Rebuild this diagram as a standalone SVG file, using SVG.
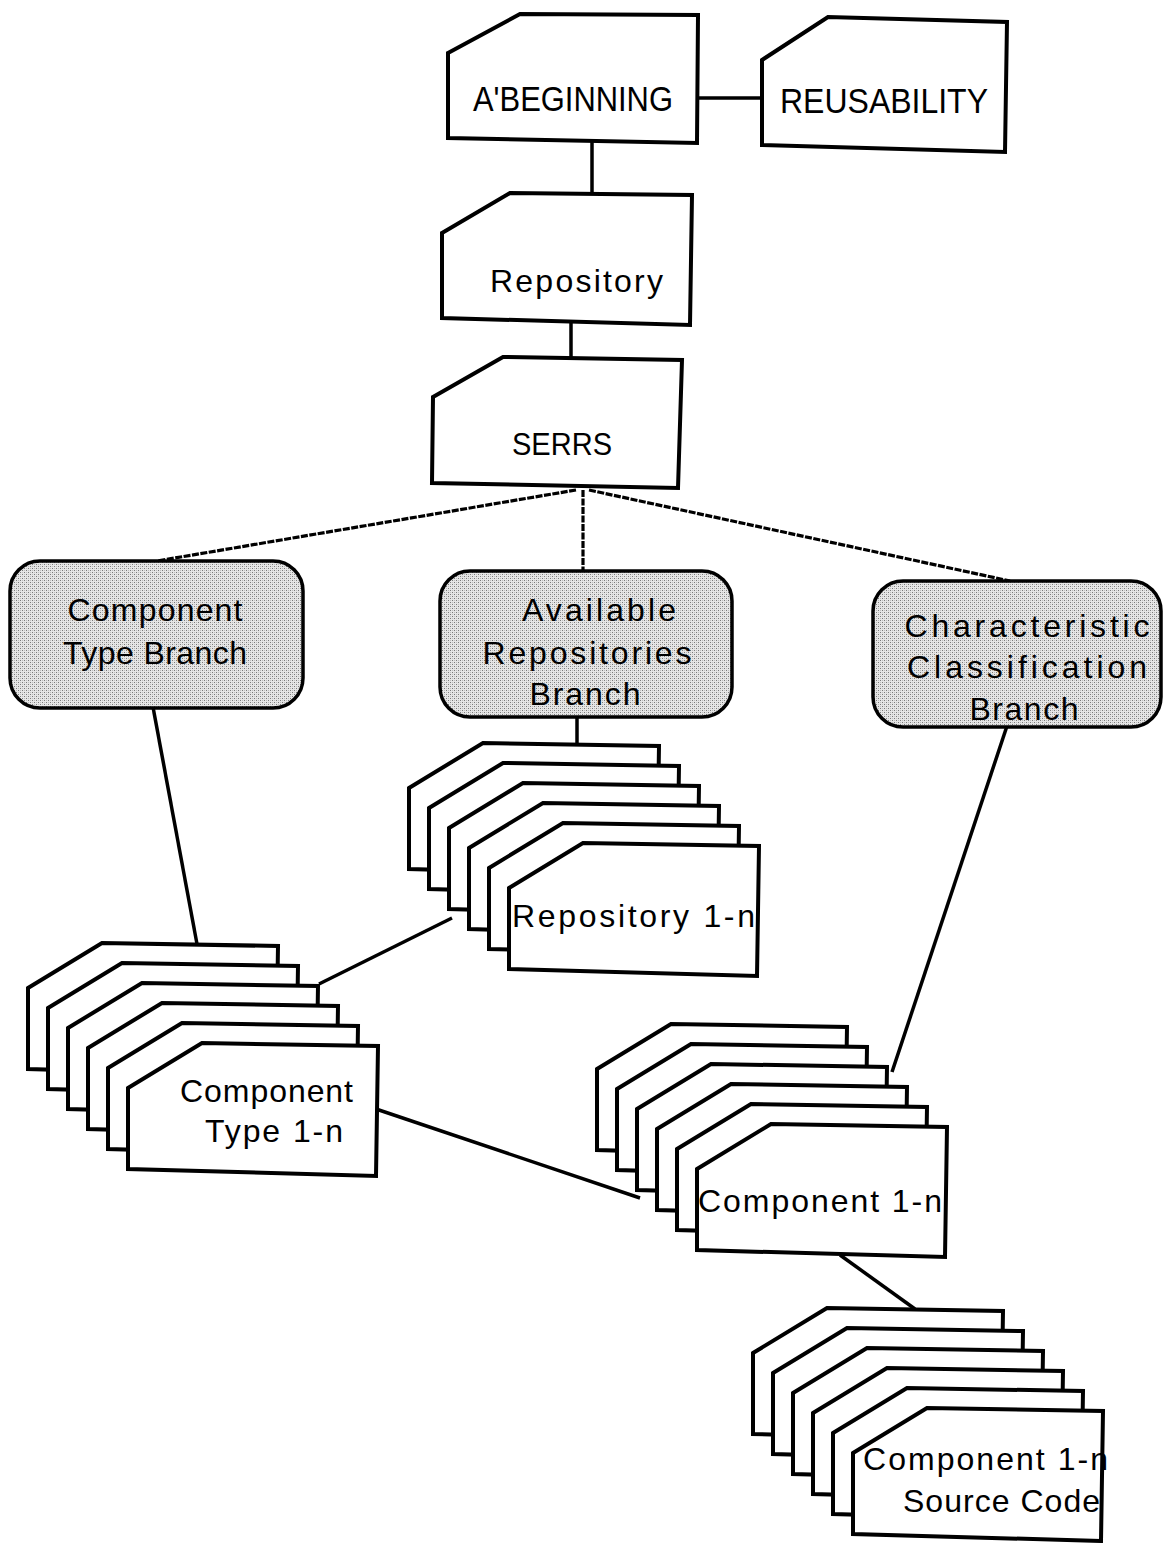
<svg xmlns="http://www.w3.org/2000/svg" xmlns:xlink="http://www.w3.org/1999/xlink" width="1163" height="1543" viewBox="0 0 1163 1543">
  <defs>
    <style>
      .box { fill: #ffffff; stroke: #000000; stroke-width: 4; stroke-linejoin: miter; }
      .branch { fill: url(#stipple); stroke: #000000; stroke-width: 3.5; }
      .link { fill: none; stroke: #000000; stroke-width: 3.5; stroke-linecap: butt; }
      .dash { fill: none; stroke: #000000; stroke-width: 3.2; stroke-dasharray: 7 1.5; }
      .lbl { font-family: "Liberation Sans", Arial, sans-serif; font-size: 32px; fill: #000000; }
      .caps { font-size: 35px; }
      .mid { text-anchor: middle; }
    </style>
    <!-- fine dot screen used for the branch boxes -->
    <pattern id="stipple" width="4" height="4" patternUnits="userSpaceOnUse">
      <rect width="4" height="4" fill="#e6e6e6"/>
      <rect x="0" y="0" width="1" height="1" fill="#7a7a7a"/>
      <rect x="2" y="2" width="1" height="1" fill="#7a7a7a"/>
      <rect x="2" y="0" width="1" height="1" fill="#bdbdbd"/>
      <rect x="0" y="2" width="1" height="1" fill="#bdbdbd"/>
    </pattern>
    <!-- one card of a stacked deck: clipped top-left corner -->
    <path id="card" class="box" d="M0,45 L74,0 L250,3 L248,133 L0,126 Z"/>
  </defs>

  <rect width="1163" height="1543" fill="#ffffff"/>

  <!-- connectors -->
  <g id="connectors">
    <line class="link" x1="698" y1="98" x2="762" y2="98"/>
    <line class="link" x1="592" y1="141" x2="592" y2="195"/>
    <line class="link" x1="571" y1="323" x2="571" y2="359"/>
    <line class="dash" x1="576" y1="490" x2="157" y2="561"/>
    <line class="dash" x1="583" y1="490" x2="583" y2="571"/>
    <line class="dash" x1="589" y1="490" x2="1010" y2="581"/>
    <line class="link" x1="153" y1="707" x2="197" y2="944"/>
    <line class="link" x1="577" y1="716" x2="577" y2="746"/>
    <line class="link" x1="1007" y1="726" x2="892" y2="1072"/>
    <line class="link" x1="452" y1="918" x2="319" y2="984"/>
    <line class="link" x1="373" y1="1108" x2="640" y2="1198"/>
    <line class="link" x1="840" y1="1255" x2="915" y2="1309"/>
  </g>

  <!-- top chain -->
  <g id="a-beginning">
    <polygon class="box" points="448,53 520,14 698,15 697,143 448,138"/>
    <text class="lbl caps" x="473" y="111" textLength="200" lengthAdjust="spacingAndGlyphs">A'BEGINNING</text>
  </g>
  <g id="reusability">
    <polygon class="box" points="762,60 828,17 1007,22 1005,152 762,145"/>
    <text class="lbl caps" x="780" y="113" textLength="208" lengthAdjust="spacingAndGlyphs">REUSABILITY</text>
  </g>
  <g id="repository">
    <polygon class="box" points="442,233 510,193 692,195 690,325 442,318"/>
    <text class="lbl" x="490" y="292" textLength="173" lengthAdjust="spacing">Repository</text>
  </g>
  <g id="serrs">
    <polygon class="box" points="433,397 503,357 682,360 678,488 432,483"/>
    <text class="lbl" x="512" y="455" textLength="100" lengthAdjust="spacingAndGlyphs">SERRS</text>
  </g>

  <!-- branch boxes -->
  <g id="component-type-branch">
    <rect class="branch" x="10" y="561" width="293" height="147" rx="30" ry="30"/>
    <text class="lbl mid" x="155" y="621" textLength="175" lengthAdjust="spacing">Component</text>
    <text class="lbl mid" x="155" y="664" textLength="184" lengthAdjust="spacing">Type Branch</text>
  </g>
  <g id="available-repositories-branch">
    <rect class="branch" x="440" y="571" width="292" height="146" rx="30" ry="30"/>
    <text class="lbl mid" x="599" y="621" textLength="154" lengthAdjust="spacing">Available</text>
    <text class="lbl mid" x="587" y="664" textLength="209" lengthAdjust="spacing">Repositories</text>
    <text class="lbl mid" x="585" y="705" textLength="111" lengthAdjust="spacing">Branch</text>
  </g>
  <g id="characteristic-classification-branch">
    <rect class="branch" x="873" y="581" width="288" height="146" rx="30" ry="30"/>
    <text class="lbl mid" x="1027" y="637" textLength="245" lengthAdjust="spacing">Characteristic</text>
    <text class="lbl mid" x="1027" y="678" textLength="240" lengthAdjust="spacing">Classification</text>
    <text class="lbl mid" x="1024" y="720" textLength="109" lengthAdjust="spacing">Branch</text>
  </g>

  <!-- stacked decks: six cards each, back to front -->
  <g id="repository-1-n">
    <use xlink:href="#card" href="#card" x="409" y="743"/>
    <use xlink:href="#card" href="#card" x="429" y="763"/>
    <use xlink:href="#card" href="#card" x="449" y="783"/>
    <use xlink:href="#card" href="#card" x="469" y="803"/>
    <use xlink:href="#card" href="#card" x="489" y="823"/>
    <use xlink:href="#card" href="#card" x="509" y="843"/>
    <text class="lbl" x="512" y="927" textLength="243" lengthAdjust="spacing">Repository 1-n</text>
  </g>
  <g id="component-type-1-n">
    <use xlink:href="#card" href="#card" x="28" y="943"/>
    <use xlink:href="#card" href="#card" x="48" y="963"/>
    <use xlink:href="#card" href="#card" x="68" y="983"/>
    <use xlink:href="#card" href="#card" x="88" y="1003"/>
    <use xlink:href="#card" href="#card" x="108" y="1023"/>
    <use xlink:href="#card" href="#card" x="128" y="1043"/>
    <text class="lbl" x="180" y="1102" textLength="173" lengthAdjust="spacing">Component</text>
    <text class="lbl" x="205" y="1142" textLength="138" lengthAdjust="spacing">Type 1-n</text>
  </g>
  <g id="component-1-n">
    <use xlink:href="#card" href="#card" x="597" y="1024"/>
    <use xlink:href="#card" href="#card" x="617" y="1044"/>
    <use xlink:href="#card" href="#card" x="637" y="1064"/>
    <use xlink:href="#card" href="#card" x="657" y="1084"/>
    <use xlink:href="#card" href="#card" x="677" y="1104"/>
    <use xlink:href="#card" href="#card" x="697" y="1124"/>
    <text class="lbl" x="698" y="1212" textLength="244" lengthAdjust="spacing">Component 1-n</text>
  </g>
  <g id="component-1-n-source-code">
    <use xlink:href="#card" href="#card" x="753" y="1308"/>
    <use xlink:href="#card" href="#card" x="773" y="1328"/>
    <use xlink:href="#card" href="#card" x="793" y="1348"/>
    <use xlink:href="#card" href="#card" x="813" y="1368"/>
    <use xlink:href="#card" href="#card" x="833" y="1388"/>
    <use xlink:href="#card" href="#card" x="853" y="1408"/>
    <text class="lbl" x="863" y="1470" textLength="245" lengthAdjust="spacing">Component 1-n</text>
    <text class="lbl" x="903" y="1512" textLength="197" lengthAdjust="spacing">Source Code</text>
  </g>
</svg>
